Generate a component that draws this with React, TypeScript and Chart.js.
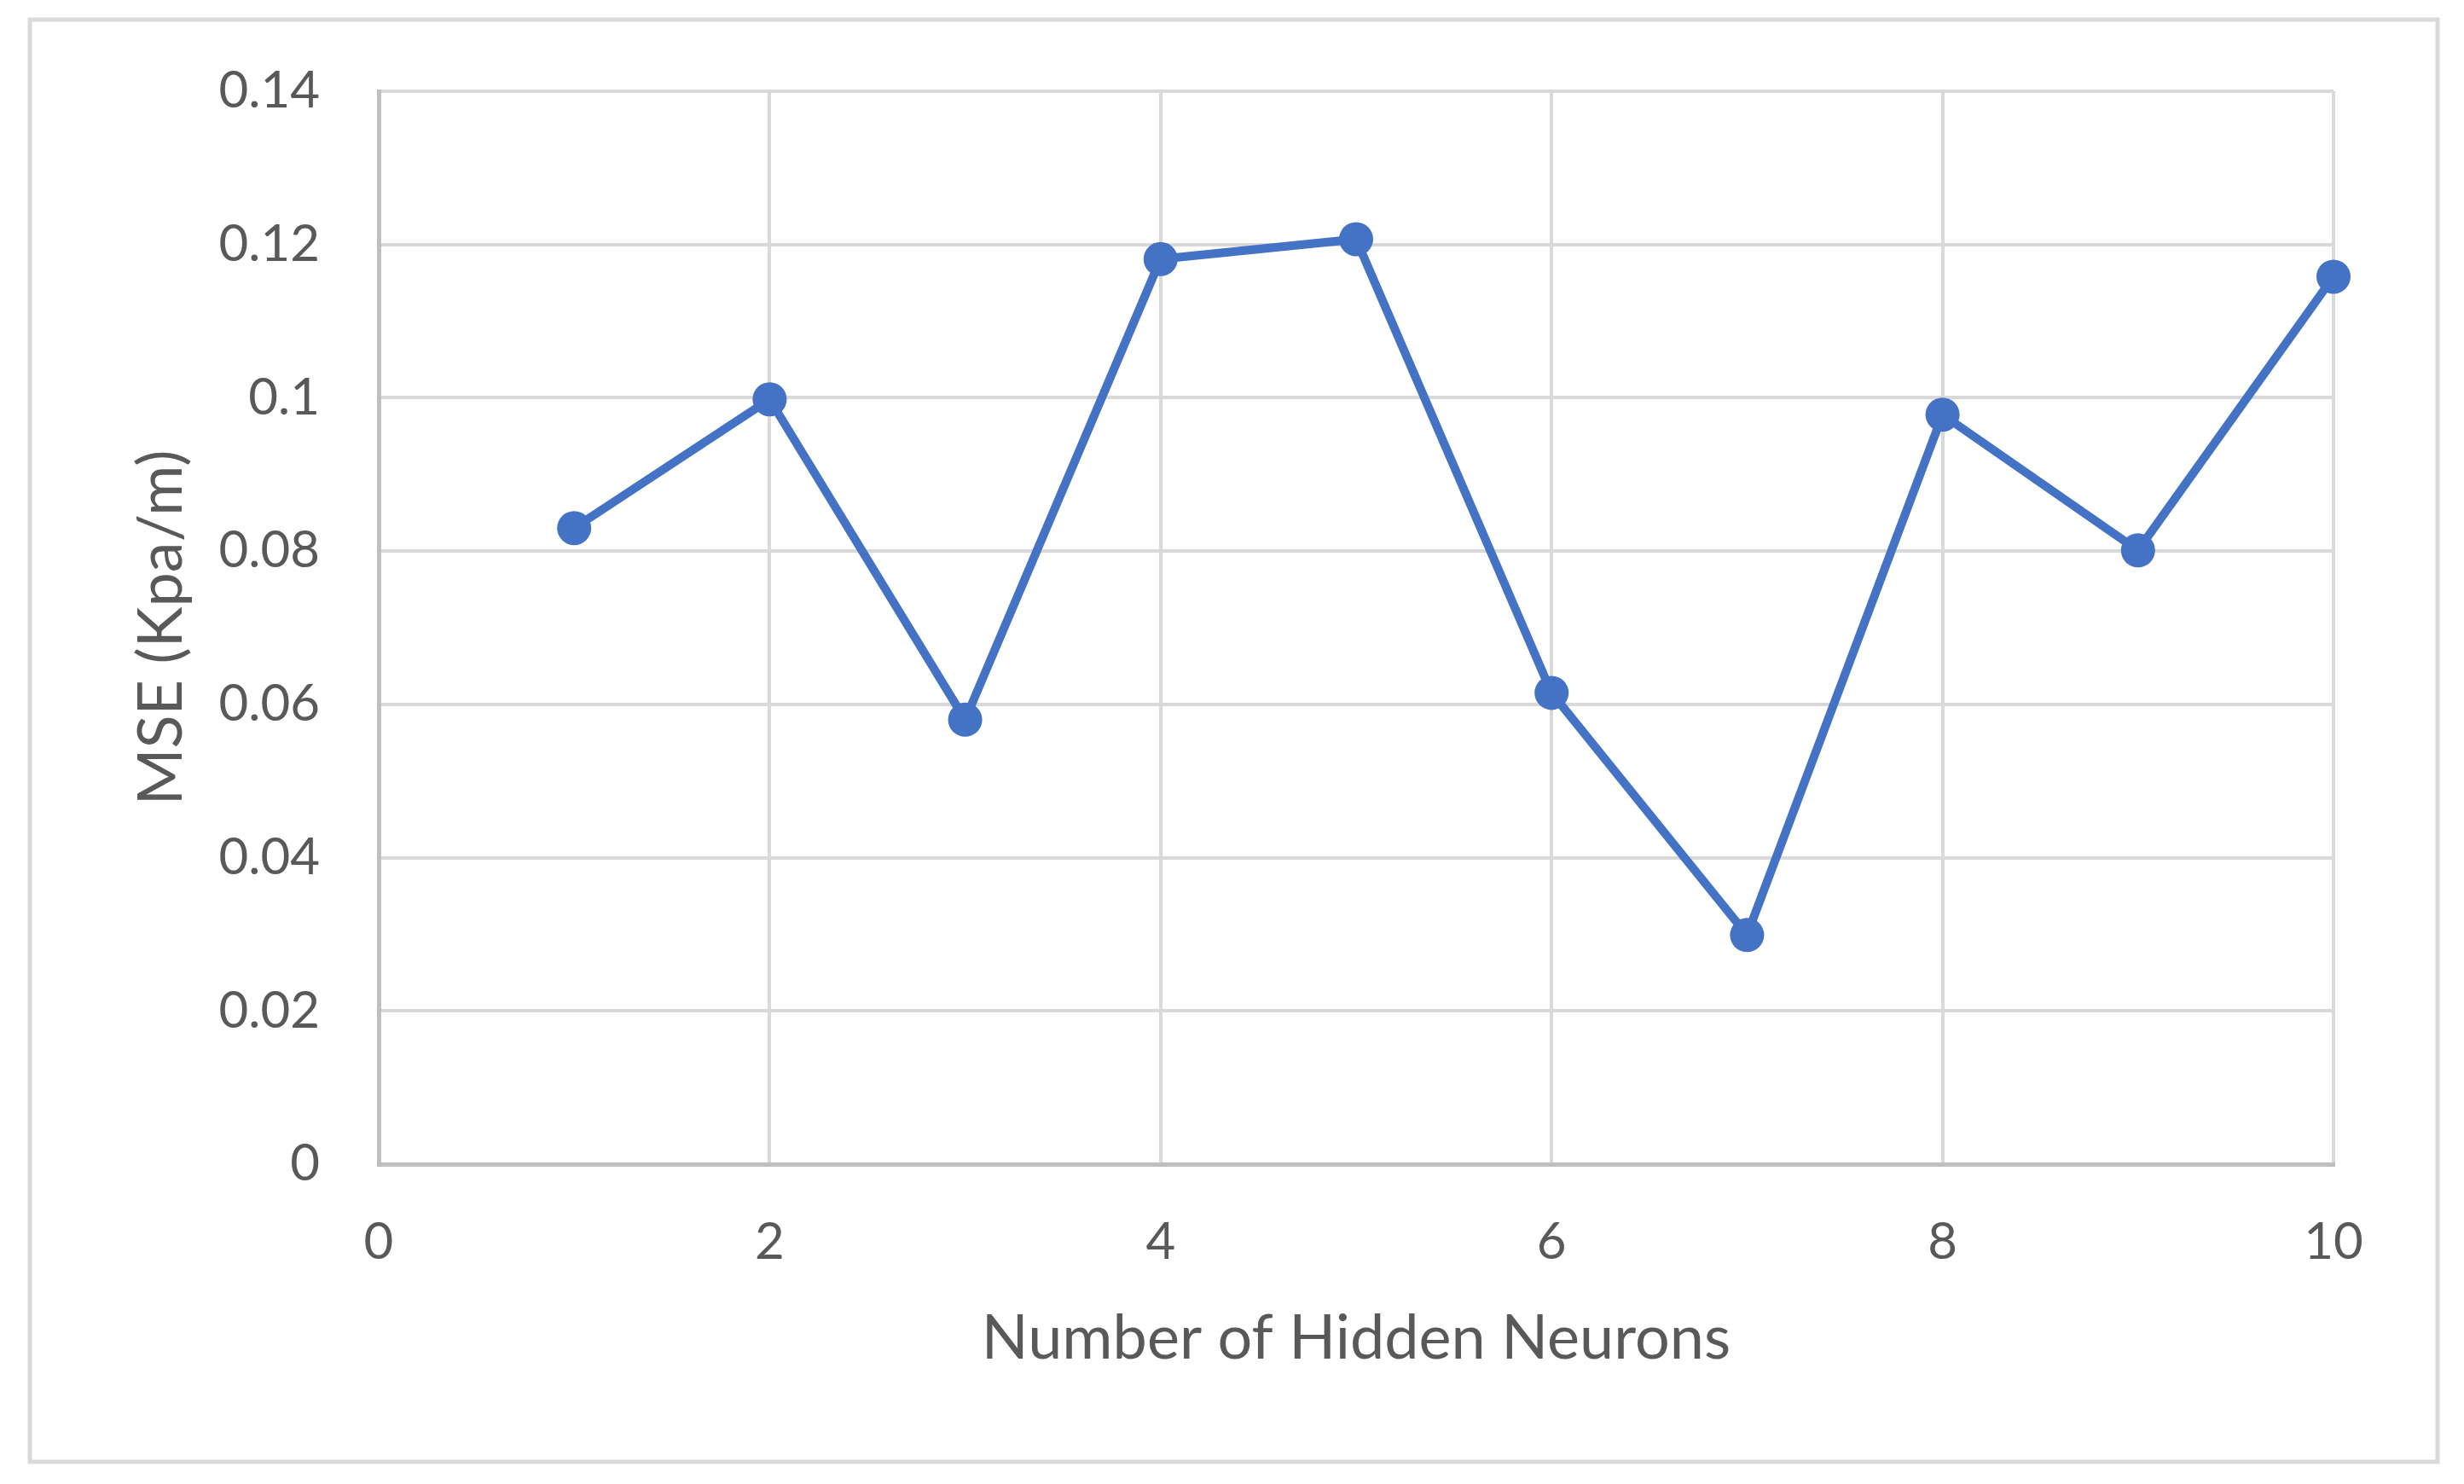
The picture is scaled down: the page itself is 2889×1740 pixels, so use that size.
import React, { useEffect, useRef } from "react";
import { Chart, registerables } from "chart.js";

Chart.register(...registerables);

const neurons = [1, 2, 3, 4, 5, 6, 7, 8, 9, 10];
const mseValues = [0.083, 0.0998, 0.058, 0.1181, 0.1207, 0.0615, 0.0299, 0.0978, 0.0801, 0.1158];
const xTitle = "Number of Hidden Neurons";
const yTitle = "MSE (Kpa/m)";

const W = 2889;
const H = 1740;
const FONT = "Lato, 'Open Sans', sans-serif";
const TEXT = "#595959";

const borderPlugin = {
  id: "outerBorder",
  beforeDraw(chart: any) {
    const ctx = chart.ctx;
    ctx.save();
    ctx.fillStyle = "#ffffff";
    ctx.fillRect(0, 0, chart.width, chart.height);
    ctx.strokeStyle = "#D9D9D9";
    ctx.lineWidth = 5;
    ctx.strokeRect(35, 23, 2858 - 35, 1714 - 23);
    ctx.restore();
  },
};

export default function App() {
  const ref = useRef<HTMLCanvasElement | null>(null);
  useEffect(() => {
    if (!ref.current) return;
    const chart = new Chart(ref.current, {
      type: "line",
      data: {
        datasets: [
          {
            data: neurons.map((x, i) => ({ x, y: mseValues[i] })),
            borderColor: "#4472C4",
            backgroundColor: "#4472C4",
            borderWidth: 10,
            pointRadius: 20,
            pointBorderWidth: 0,
            pointBackgroundColor: "#4472C4",
            tension: 0,
            clip: false,
          },
        ],
      },
      plugins: [borderPlugin],
      options: {
        animation: false,
        responsive: false,
        devicePixelRatio: 1,
        layout: { padding: { left: 0, top: 107, right: 153, bottom: 0 } },
        plugins: { legend: { display: false }, tooltip: { enabled: false } },
        scales: {
          x: {
            type: "linear",
            min: 0,
            max: 10,
            afterFit: (s: any) => {
              s.height = H - 1365;
            },
            ticks: {
              stepSize: 2,
              color: TEXT,
              padding: 56,
              font: { family: FONT, size: 60 },
            },
            grid: { color: "#D9D9D9", lineWidth: 4, drawTicks: false },
            border: { color: "#BFBFBF", width: 5 },
            title: {
              display: true,
              text: xTitle,
              color: TEXT,
              font: { family: FONT, size: 72 },
              padding: { top: 0, bottom: 127 },
            },
          },
          y: {
            min: 0,
            max: 0.14,
            afterFit: (s: any) => {
              s.width = 444;
            },
            ticks: {
              stepSize: 0.02,
              color: TEXT,
              padding: 69,
              font: { family: FONT, size: 60 },
              callback: (v: any) => String(parseFloat(Number(v).toFixed(2))),
            },
            grid: { color: "#D9D9D9", lineWidth: 4, drawTicks: false },
            border: { color: "#BFBFBF", width: 5 },
            title: {
              display: true,
              text: yTitle,
              color: TEXT,
              font: { family: FONT, size: 72 },
              padding: { top: 147, bottom: 0 },
            },
          },
        },
      },
    } as any);
    return () => chart.destroy();
  }, []);
  return (
    <div style={{ position: "absolute", left: 0, top: 0, width: W, height: H, background: "#fff" }}>
      <canvas ref={ref} width={W} height={H} style={{ display: "block", width: W, height: H }} />
    </div>
  );
}
